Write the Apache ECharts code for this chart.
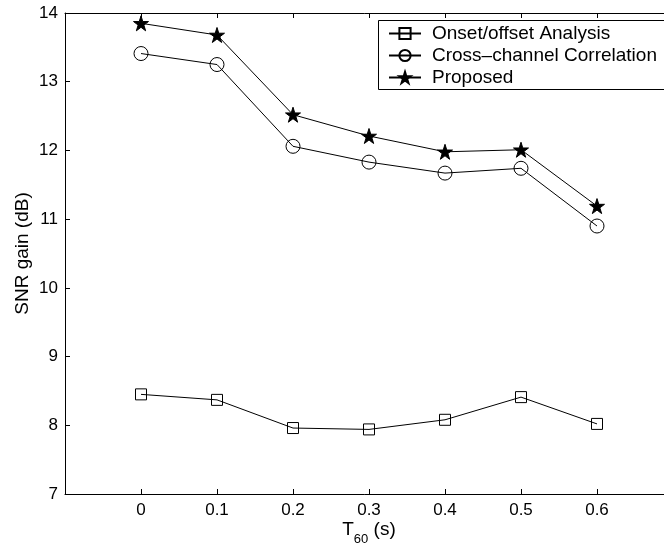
<!DOCTYPE html>
<html>
<head>
<meta charset="utf-8">
<script src="https://cdn.jsdelivr.net/npm/echarts@6/dist/echarts.min.js"></script>
<style>
html,body{margin:0;padding:0;background:#fff;overflow:hidden}
#main{width:664px;height:546px}
</style>
</head>
<body>
<div id="main"></div>
<script>
// values
let t60 = [0, 0.1, 0.2, 0.3, 0.4, 0.5, 0.6];
let onsetOffset = [8.45, 8.37, 7.96, 7.94, 8.08, 8.41, 8.02];
let crossChannel = [13.41, 13.25, 12.06, 11.83, 11.67, 11.74, 10.90];
let proposed = [13.85, 13.68, 12.52, 12.21, 11.98, 12.01, 11.19];
let seriesNames = ['Onset/offset Analysis', 'Cross\u2013channel Correlation', 'Proposed'];
let xTickLabels = ['0', '0.1', '0.2', '0.3', '0.4', '0.5', '0.6'];

let font = '"Liberation Sans", Arial, Helvetica, sans-serif';
let star = 'path://M100,0L122.45,69.1L195.1,69.1L136.33,111.8L158.78,180.9L100,138.2L41.22,180.9L63.67,111.8L4.9,69.1L77.55,69.1Z';

let pairs = (ys) => t60.map((x, i) => [x, ys[i]]);

let lineSeries = (name, ys, symbol, size, fill) => ({
    name: name,
    type: 'line',
    data: pairs(ys),
    symbol: symbol,
    symbolSize: size,
    showAllSymbol: true,
    lineStyle: {color: '#000', width: 1},
    itemStyle: {color: fill, borderColor: '#000', borderWidth: 1},
    emphasis: {disabled: true},
    z: 3
});

let tickFmt = (v) => {
    let i = t60.findIndex(x => Math.abs(x - v) < 1e-6);
    return i < 0 ? '' : xTickLabels[i];
};

let baseX = {
    type: 'value',
    min: -0.1,
    max: 0.7,
    interval: 0.1,
    splitLine: {show: false},
    axisLine: {onZero: false, lineStyle: {color: '#000', width: 1}},
    axisTick: {inside: true, length: 5, lineStyle: {color: '#000'}}
};

let chart = echarts.init(document.getElementById('main'));
chart.setOption({
    animation: false,
    backgroundColor: '#fff',
    // the right edge of the axes box falls outside the picture
    grid: {left: 65, top: 13, width: 608, height: 481, containLabel: false, outerBoundsMode: 'none'},
    // legend frame runs past the right edge too, so it is drawn apart
    graphic: [{
        type: 'rect',
        z: 1,
        shape: {x: 378.5, y: 20.5, width: 300, height: 69},
        style: {fill: '#fff', stroke: '#000', lineWidth: 1}
    }],
    legend: {
        orient: 'vertical',
        left: 378,
        top: 20,
        itemWidth: 32,
        itemHeight: 14,
        itemGap: 3,
        padding: [4, 10, 2, 10],
        selectedMode: false,
        textStyle: {fontSize: 19, lineHeight: 19, color: '#000', fontFamily: font, padding: [0, 0, 0, 6]},
        data: seriesNames
    },
    xAxis: [
        Object.assign({}, baseX, {
            position: 'bottom',
            axisLabel: {fontSize: 17, color: '#000', fontFamily: font, margin: 8, formatter: tickFmt},
            name: '{a|T}{b|60}{a| (s)}',
            nameLocation: 'middle',
            nameGap: 26,
            nameMoveOverlap: false,
            nameTextStyle: {
                rich: {
                    a: {fontSize: 19, color: '#000', fontFamily: font, verticalAlign: 'top', lineHeight: 26},
                    b: {fontSize: 13, color: '#000', fontFamily: font, verticalAlign: 'bottom', lineHeight: 26}
                }
            }
        }),
        Object.assign({}, baseX, {position: 'top', axisLabel: {show: false}})
    ],
    yAxis: {
        type: 'value',
        min: 7,
        max: 14,
        interval: 1,
        splitLine: {show: false},
        axisLine: {show: true, onZero: false, lineStyle: {color: '#000', width: 1}},
        axisTick: {show: true, inside: true, length: 5, lineStyle: {color: '#000'}},
        axisLabel: {fontSize: 17, color: '#000', fontFamily: font, margin: 7},
        name: 'SNR gain (dB)',
        nameLocation: 'middle',
        nameGap: 33,
        nameMoveOverlap: false,
        nameTextStyle: {fontSize: 19, color: '#000', fontFamily: font}
    },
    series: [
        lineSeries(seriesNames[0], onsetOffset, 'rect', 11, 'rgba(0,0,0,0)'),
        lineSeries(seriesNames[1], crossChannel, 'circle', 14, 'rgba(0,0,0,0)'),
        lineSeries(seriesNames[2], proposed, star, 15, '#000')
    ]
});
</script>
</body>
</html>
